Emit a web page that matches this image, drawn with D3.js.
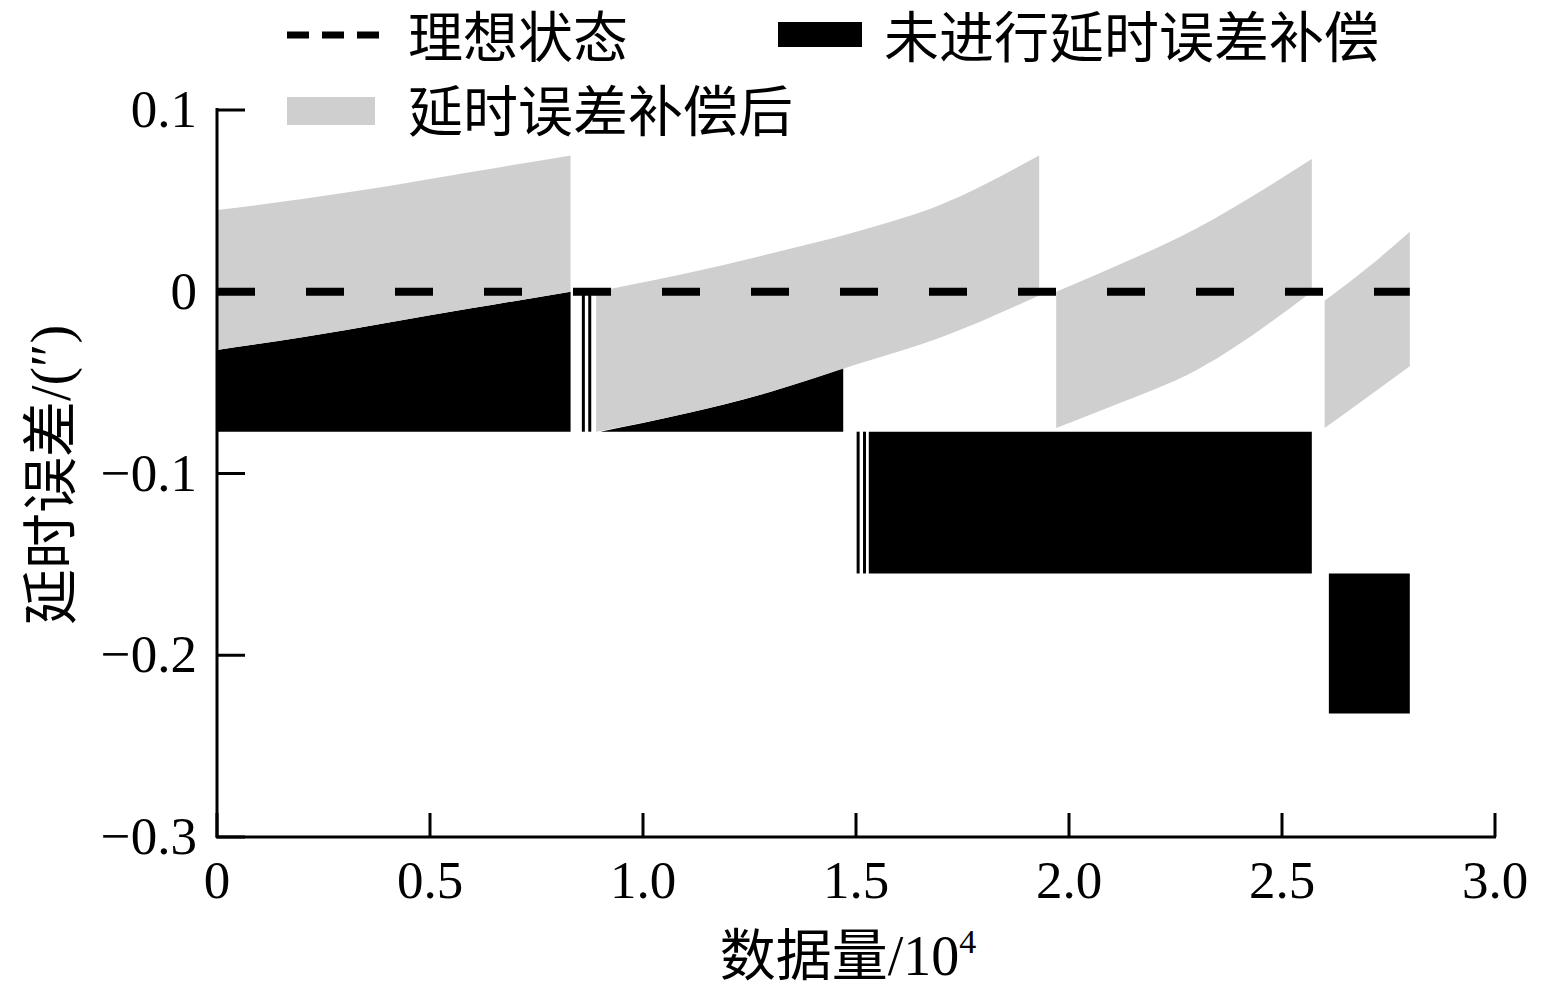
<!DOCTYPE html><html><head><meta charset="utf-8">
<script src="https://cdn.jsdelivr.net/npm/d3@7"></script>
<style>body{margin:0;background:#fff}svg{display:block}</style></head><body>
<svg id="c" width="1550" height="993"></svg>
<script>
const xTicks=[0,0.5,1.0,1.5,2.0,2.5,3.0];
const xTickLabels=["0","0.5","1.0","1.5","2.0","2.5","3.0"];
const yTicks=[0.1,0,-0.1,-0.2,-0.3];
const yTickLabels=["0.1","0","\u22120.1","\u22120.2","\u22120.3"];
// uncompensated (black) blocks: [x, top, bottom]
const black1=[[0,-0.032,-0.077],[0.2,-0.025,-0.077],[0.4,-0.017,-0.077],[0.6,-0.009,-0.077],[0.83,0,-0.077]];
const black2=[[0.9,-0.077,-0.077],[1.1,-0.067,-0.077],[1.3,-0.055,-0.077],[1.47,-0.042,-0.077]];
const black3=[[1.53,-0.077,-0.155],[2.57,-0.077,-0.155]];
const black4=[[2.61,-0.155,-0.232],[2.8,-0.155,-0.232]];
const blackStripes=[[0.86,0,-0.077],[0.875,0,-0.077],[1.505,-0.077,-0.155],[1.52,-0.077,-0.155]];
// compensated (gray) bands: [x, top, bottom]
const gray1=[[0,0.045,-0.032],[0.2,0.051,-0.025],[0.4,0.058,-0.017],[0.6,0.066,-0.009],[0.83,0.075,0]];
const gray2=[[0.89,0.0,-0.077],[1.1,0.010,-0.067],[1.3,0.021,-0.055],[1.5,0.033,-0.040],[1.7,0.048,-0.025],[1.93,0.075,-0.002]];
const gray3=[[1.97,0.0,-0.075],[2.1,0.013,-0.063],[2.3,0.035,-0.043],[2.57,0.073,0.0]];
const gray4=[[2.6,-0.005,-0.075],[2.7,0.013,-0.058],[2.8,0.033,-0.041]];
const idealX=[0,2.8];

const svg=d3.select("#c");
const x=d3.scaleLinear().domain([0,3]).range([217,1495]);
const y=d3.scaleLinear().domain([-0.3,0.1]).range([837,110]);
const area=d3.area().x(d=>x(d[0])).y0(d=>y(d[2])).y1(d=>y(d[1])).curve(d3.curveMonotoneX);
[black1,black2,black3,black4].forEach(b=>svg.append("path").attr("d",area(b)).attr("fill","#000"));
blackStripes.forEach(s=>svg.append("line").attr("x1",x(s[0])).attr("x2",x(s[0])).attr("y1",y(s[1])).attr("y2",y(s[2])).attr("stroke","#000").attr("stroke-width",3));
[gray1,gray2,gray3,gray4].forEach(b=>svg.append("path").attr("d",area(b)).attr("fill","#cfcfcf"));
svg.append("line").attr("x1",x(idealX[0])).attr("x2",x(idealX[1])).attr("y1",y(0)).attr("y2",y(0))
 .attr("stroke","#000").attr("stroke-width",8).attr("stroke-dasharray","38,51");
const serif="'Liberation Serif','DejaVu Serif',serif";
const cjk="'Noto Sans CJK SC',sans-serif";
// axes
svg.append("line").attr("x1",217).attr("x2",217).attr("y1",108).attr("y2",838).attr("stroke","#000").attr("stroke-width",3);
svg.append("line").attr("x1",216).attr("x2",1496).attr("y1",837).attr("y2",837).attr("stroke","#000").attr("stroke-width",3);
yTicks.forEach((t,i)=>{svg.append("line").attr("x1",217).attr("x2",245).attr("y1",y(t)).attr("y2",y(t)).attr("stroke","#000").attr("stroke-width",3);
 svg.append("text").attr("x",197).attr("y",y(t)+17).attr("text-anchor","end").attr("font-family",serif).attr("font-size",53).text(yTickLabels[i]);});
xTicks.forEach((t,i)=>{svg.append("line").attr("x1",x(t)).attr("x2",x(t)).attr("y1",837).attr("y2",813).attr("stroke","#000").attr("stroke-width",3);
 svg.append("text").attr("x",x(t)).attr("y",898).attr("text-anchor","middle").attr("font-family",serif).attr("font-size",53).text(xTickLabels[i]);});
const xl=svg.append("text").attr("x",848).attr("y",975).attr("text-anchor","middle").attr("font-size",56);
xl.append("tspan").attr("font-family",cjk).text("数据量");
xl.append("tspan").attr("font-family",serif).text("/10");
xl.append("tspan").attr("font-family",serif).attr("font-size",34).attr("dy",-22).text("4");
const yl=svg.append("text").attr("transform","translate(70,475) rotate(-90)").attr("text-anchor","middle").attr("font-size",56);
yl.append("tspan").attr("font-family",cjk).text("延时误差");
yl.append("tspan").attr("font-family",serif).text("/(\u2033)");
// legend
svg.append("line").attr("x1",287).attr("x2",380).attr("y1",35).attr("y2",35).attr("stroke","#000").attr("stroke-width",7).attr("stroke-dasharray","22,13");
svg.append("text").attr("x",408).attr("y",57).attr("font-family",cjk).attr("font-size",55).text("理想状态");
svg.append("rect").attr("x",778).attr("y",22).attr("width",84).attr("height",25).attr("fill","#000");
svg.append("text").attr("x",884).attr("y",57).attr("font-family",cjk).attr("font-size",55).text("未进行延时误差补偿");
svg.append("rect").attr("x",287).attr("y",97).attr("width",88).attr("height",28).attr("fill","#cfcfcf");
svg.append("text").attr("x",408).attr("y",131).attr("font-family",cjk).attr("font-size",55).text("延时误差补偿后");
</script></body></html>
